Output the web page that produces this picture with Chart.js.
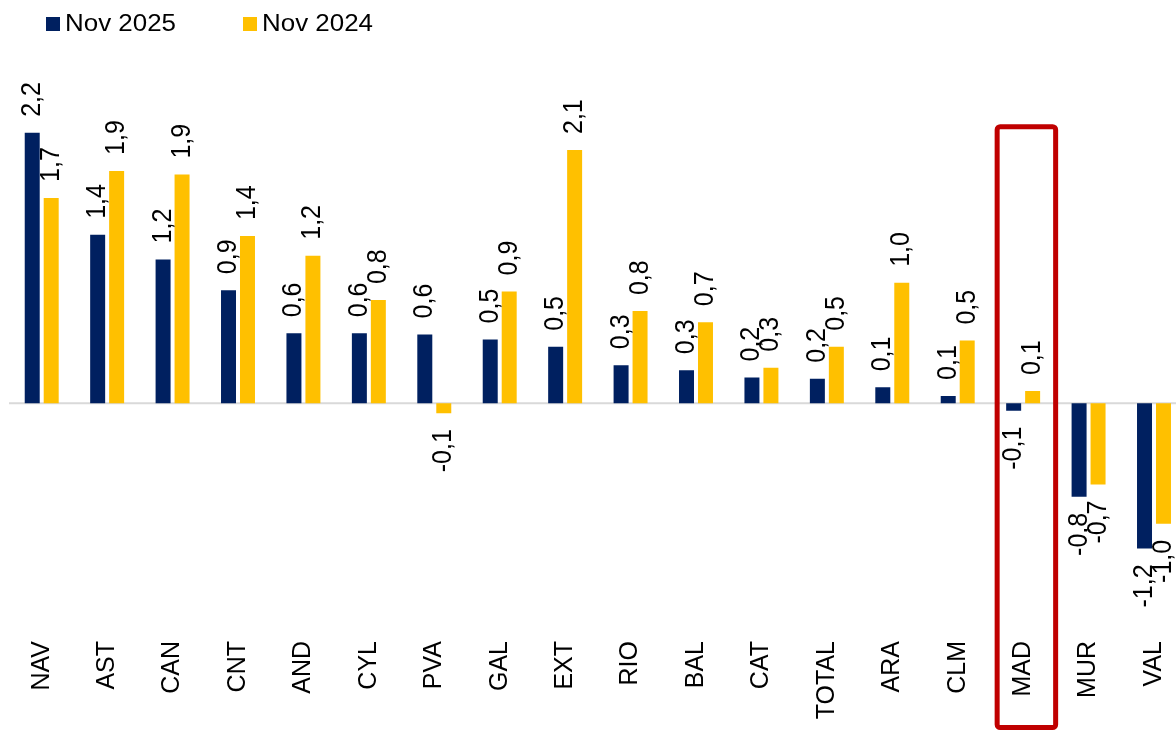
<!DOCTYPE html>
<html>
<head>
<meta charset="utf-8">
<script src="https://cdn.jsdelivr.net/npm/chart.js@4/dist/chart.umd.min.js"></script>
<style>
  html, body { margin: 0; padding: 0; background: #ffffff; overflow: hidden; }
  #wrap { position: relative; width: 1188px; height: 733px; }
</style>
</head>
<body>
<div id="wrap"><canvas id="c" width="1188" height="733"></canvas></div>
<script>
const categories = ['NAV','AST','CAN','CNT','AND','CYL','PVA','GAL','EXT','RIO','BAL','CAT','TOTAL','ARA','CLM','MAD','MUR','VAL'];
const nov2025 = [2.20, 1.37, 1.17, 0.92, 0.57, 0.57, 0.56, 0.52, 0.46, 0.31, 0.27, 0.21, 0.20, 0.13, 0.06, -0.06, -0.76, -1.18];
const nov2024 = [1.67, 1.89, 1.86, 1.36, 1.20, 0.84, -0.08, 0.91, 2.06, 0.75, 0.66, 0.29, 0.46, 0.98, 0.51, 0.10, -0.66, -0.98];
const seriesNames = ['Nov 2025', 'Nov 2024'];
const highlightCategory = 'MAD';

const NAVY = '#002060';
const GOLD = '#FFC000';
const FONT = '"Liberation Sans", Arial, Helvetica, sans-serif';
const XSTRETCH = 1.08;

function fmt(v) {
  return (Math.round(v * 10) / 10).toFixed(1).replace('.', ',');
}

const zeroLine = {
  id: 'zeroLine',
  beforeDatasetsDraw(chart) {
    const { ctx, chartArea, scales } = chart;
    const y = scales.y.getPixelForValue(0);
    ctx.save();
    ctx.strokeStyle = '#d9d9d9';
    ctx.lineWidth = 2;
    ctx.beginPath();
    ctx.moveTo(chartArea.left, y);
    ctx.lineTo(chartArea.right, y);
    ctx.stroke();
    ctx.restore();
  }
};

const valueLabels = {
  id: 'valueLabels',
  afterDatasetsDraw(chart) {
    const { ctx } = chart;
    ctx.save();
    ctx.font = '25px ' + FONT;
    ctx.fillStyle = '#000000';
    ctx.textBaseline = 'middle';
    chart.data.datasets.forEach((ds, di) => {
      const meta = chart.getDatasetMeta(di);
      meta.data.forEach((bar, i) => {
        const v = ds.data[i];
        const off = 16;
        ctx.save();
        if (v >= 0) {
          ctx.translate(bar.x, bar.y - off);
          ctx.textAlign = 'left';
        } else {
          ctx.translate(bar.x, bar.y + off);
          ctx.textAlign = 'right';
        }
        ctx.scale(XSTRETCH, 1);
        ctx.rotate(-Math.PI / 2);
        ctx.fillText(fmt(v), 0, 0);
        ctx.restore();
      });
    });
    ctx.restore();
  }
};

const legendPlugin = {
  id: 'customLegend',
  afterDraw(chart) {
    const { ctx } = chart;
    const items = [
      { x: 46, color: NAVY, text: seriesNames[0] },
      { x: 243, color: GOLD, text: seriesNames[1] }
    ];
    ctx.save();
    ctx.font = '24px ' + FONT;
    ctx.textBaseline = 'alphabetic';
    ctx.textAlign = 'left';
    items.forEach(it => {
      ctx.fillStyle = it.color;
      ctx.fillRect(it.x, 17, 14, 14);
      ctx.save();
      ctx.translate(it.x + 19, 31);
      ctx.scale(XSTRETCH, 1);
      ctx.fillStyle = '#000000';
      ctx.fillText(it.text, 0, 0);
      ctx.restore();
    });
    ctx.restore();
  }
};

const highlightBox = {
  id: 'highlightBox',
  afterDraw(chart) {
    const { ctx, scales } = chart;
    const idx = categories.indexOf(highlightCategory);
    const cx = scales.x.getPixelForValue(idx);
    const left = cx - 26;
    const right = cx + 32.5;
    const top = scales.y.getPixelForValue(2.25);
    const bottom = chart.height - 5.5;
    const r = 3;
    ctx.save();
    ctx.strokeStyle = '#C00000';
    ctx.lineWidth = 5;
    ctx.beginPath();
    ctx.moveTo(left + r, top);
    ctx.lineTo(right - r, top);
    ctx.arcTo(right, top, right, top + r, r);
    ctx.lineTo(right, bottom - r);
    ctx.arcTo(right, bottom, right - r, bottom, r);
    ctx.lineTo(left + r, bottom);
    ctx.arcTo(left, bottom, left, bottom - r, r);
    ctx.lineTo(left, top + r);
    ctx.arcTo(left, top, left + r, top, r);
    ctx.closePath();
    ctx.stroke();
    ctx.restore();
  }
};

new Chart(document.getElementById('c'), {
  type: 'bar',
  data: {
    labels: categories,
    datasets: [
      { label: seriesNames[0], data: nov2025, backgroundColor: NAVY, borderWidth: 0, categoryPercentage: 0.58, barPercentage: 0.79 },
      { label: seriesNames[1], data: nov2024, backgroundColor: GOLD, borderWidth: 0, categoryPercentage: 0.58, barPercentage: 0.79 }
    ]
  },
  options: {
    responsive: false,
    animation: false,
    devicePixelRatio: 1,
    layout: { padding: { top: 59, left: 9, right: 0, bottom: 0 } },
    plugins: {
      legend: { display: false },
      tooltip: { enabled: false },
      title: { display: false }
    },
    scales: {
      x: {
        grid: { display: false, drawTicks: false },
        border: { display: false },
        ticks: {
          color: '#000000',
          font: { family: FONT, size: 25 },
          minRotation: 90,
          maxRotation: 90,
          autoSkip: false,
          padding: 4
        },
        afterFit(scale) { scale.height = 96; }
      },
      y: {
        display: false,
        min: -1.9,
        max: 2.8
      }
    }
  },
  plugins: [zeroLine, valueLabels, legendPlugin, highlightBox]
});
</script>
</body>
</html>
